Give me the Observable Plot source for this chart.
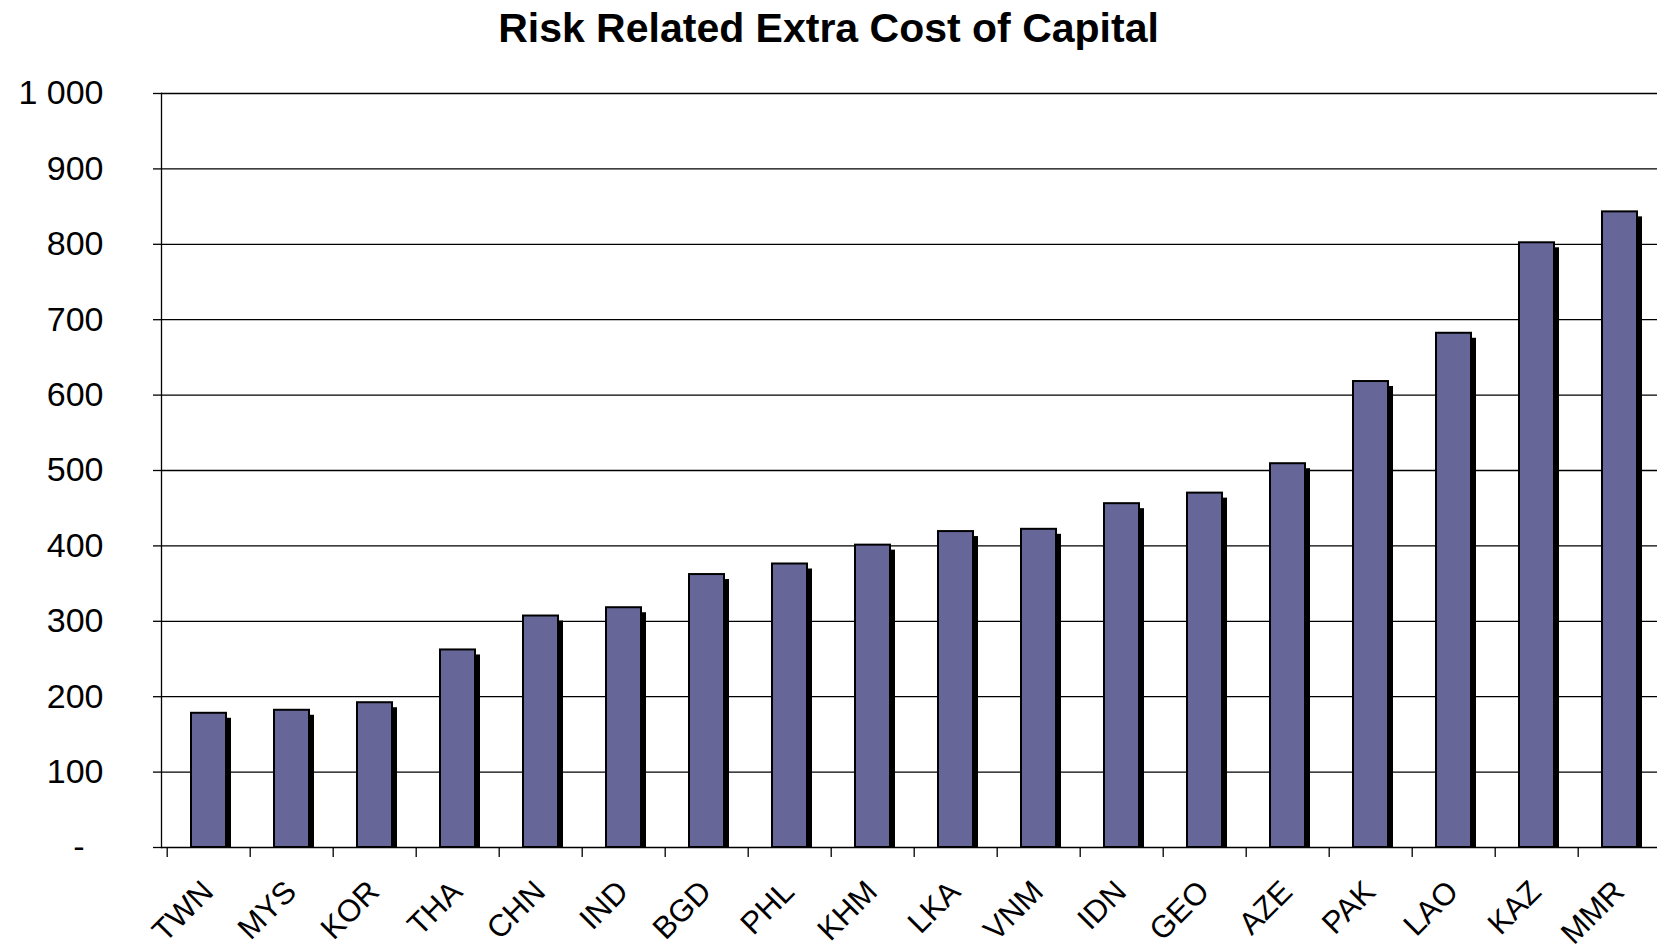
<!DOCTYPE html>
<html>
<head>
<meta charset="utf-8">
<script src="https://cdn.jsdelivr.net/npm/d3@7"></script>
<script src="https://cdn.jsdelivr.net/npm/@observablehq/plot@0.6"></script>
<style>
  html, body { margin: 0; padding: 0; background: #fff; overflow: hidden; }
  #title {
    font-family: "Liberation Sans", Arial, sans-serif;
    font-weight: bold;
    font-size: 41px;
    line-height: 56px;
    height: 56px;
    text-align: center;
    color: #000;
  }
  #chart svg { display: block; max-width: none; }
</style>
</head>
<body>
<div id="title">Risk Related Extra Cost of Capital</div>
<div id="chart"></div>
<script>
// Countries, ordered by extra cost of capital (basis points)
const countries = ["TWN", "MYS", "KOR", "THA", "CHN", "IND", "BGD", "PHL", "KHM",
                   "LKA", "VNM", "IDN", "GEO", "AZE", "PAK", "LAO", "KAZ", "MMR"];
const extraCost = [178, 182, 192, 262, 307, 318, 362, 376, 401,
                   419, 422, 456, 470, 509, 618, 682, 802, 843];
const yTicks = [0, 100, 200, 300, 400, 500, 600, 700, 800, 900, 1000];

const data = countries.map((c, i) => ({country: c, value: extraCost[i]}));

const width = 1657;
const height = 895;
const marginLeft = 161;
const marginRight = -9;
const step = (width - marginLeft - marginRight) / countries.length;

const grouped = d3.formatLocale({thousands: " ", grouping: [3], decimal: ","}).format(",d");
const yFormat = v => v === 0 ? "-\u2007" : grouped(v);

const chart = Plot.plot({
  width,
  height,
  marginTop: 37,
  marginBottom: 104,
  marginLeft,
  marginRight,
  style: {fontFamily: "'Liberation Sans', Arial, sans-serif", color: "#000", background: "#fff"},
  x: {domain: countries, padding: 0},
  y: {domain: [0, 1000]},
  marks: [
    Plot.gridY(yTicks, {stroke: "#000", strokeOpacity: 1, strokeWidth: 1.3}),
    Plot.frame({anchor: "left", stroke: "#000", strokeWidth: 1.3}),
    Plot.axisY(yTicks, {
      tickSize: 8, tickPadding: 50, tickFormat: yFormat,
      fontSize: 34, label: null, stroke: "#000", strokeWidth: 1.3
    }),
    // category separators below the baseline
    Plot.axisX(countries, {
      tickSize: 10, dx: -step / 2, text: null, label: null,
      stroke: "#000", strokeWidth: 1.3
    }),
    Plot.axisX(countries, {
      tickSize: 0, tickRotate: -45, tickPadding: 39, dx: -1,
      fontSize: 31, label: null
    }),
    // drop shadow
    Plot.barY(data, {
      x: "country", y: "value", fill: "#000",
      insetLeft: 24, insetRight: 24, insetBottom: 5, dx: 5, dy: 5
    }),
    Plot.barY(data, {
      x: "country", y: "value", fill: "#666699", stroke: "#000", strokeWidth: 2,
      insetLeft: 24, insetRight: 24
    })
  ]
});

document.getElementById("chart").appendChild(chart);
</script>
</body>
</html>
